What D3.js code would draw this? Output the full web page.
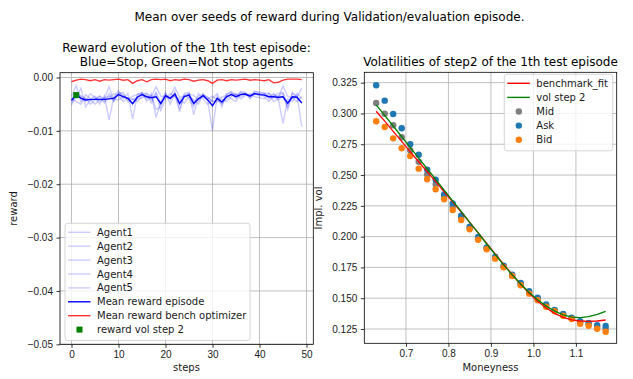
<!DOCTYPE html>
<html>
<head>
<meta charset="utf-8">
<script src="https://cdn.jsdelivr.net/npm/d3@7"></script>
<style>
  body { margin: 0; background: #fff; }
  svg { font-family: "DejaVu Sans", sans-serif; }
  .axis path, .axis line { stroke: #000; stroke-width: 0.8; }
  .axis text { font-size: 10px; fill: #1a1a1a; }
  .grid line { stroke: #b0b0b0; stroke-width: 0.8; }
</style>
</head>
<body>
<div class="chart"></div>
<script>
// ---- left panel data: reward per step ----
const agent1 = [-0.0052,-0.0028,-0.0035,-0.0045,-0.0030,-0.0038,-0.0050,-0.0034,-0.0080,-0.0036,-0.0025,-0.0040,-0.0030,-0.0078,-0.0032,-0.0028,-0.0045,-0.0034,-0.0060,-0.0055,-0.0030,-0.0042,-0.0026,-0.0065,-0.0030,-0.0028,-0.0070,-0.0036,-0.0030,-0.0045,-0.0099,-0.0035,-0.0055,-0.0030,-0.0028,-0.0040,-0.0026,-0.0028,-0.0038,-0.0025,-0.0030,-0.0028,-0.0040,-0.0032,-0.0035,-0.0030,-0.0060,-0.0030,-0.0034,-0.0092];
const agent2 = [-0.0035,-0.0015,-0.0045,-0.0038,-0.0050,-0.0042,-0.0035,-0.0048,-0.0030,-0.0045,-0.0030,-0.0028,-0.0046,-0.0040,-0.0045,-0.0035,-0.0030,-0.0048,-0.0030,-0.0062,-0.0040,-0.0030,-0.0036,-0.0040,-0.0048,-0.0036,-0.0042,-0.0050,-0.0032,-0.0038,-0.0045,-0.0046,-0.0040,-0.0045,-0.0036,-0.0030,-0.0040,-0.0034,-0.0030,-0.0036,-0.0038,-0.0040,-0.0030,-0.0045,-0.0040,-0.0086,-0.0040,-0.0045,-0.0030,-0.0040];
const agent3 = [-0.0048,-0.0038,-0.0020,-0.0055,-0.0042,-0.0050,-0.0040,-0.0045,-0.0038,-0.0030,-0.0035,-0.0045,-0.0038,-0.0042,-0.0036,-0.0030,-0.0040,-0.0030,-0.0075,-0.0045,-0.0028,-0.0050,-0.0030,-0.0045,-0.0032,-0.0040,-0.0055,-0.0030,-0.0040,-0.0050,-0.0040,-0.0030,-0.0050,-0.0032,-0.0040,-0.0045,-0.0030,-0.0030,-0.0040,-0.0032,-0.0030,-0.0036,-0.0045,-0.0035,-0.0030,-0.0028,-0.0050,-0.0038,-0.0045,-0.0036];
const agent4 = [-0.0040,-0.0045,-0.0050,-0.0032,-0.0040,-0.0035,-0.0045,-0.0038,-0.0035,-0.0040,-0.0042,-0.0035,-0.0040,-0.0050,-0.0040,-0.0038,-0.0035,-0.0042,-0.0028,-0.0048,-0.0036,-0.0038,-0.0035,-0.0058,-0.0035,-0.0030,-0.0045,-0.0040,-0.0036,-0.0040,-0.0035,-0.0042,-0.0048,-0.0040,-0.0030,-0.0032,-0.0036,-0.0032,-0.0034,-0.0030,-0.0035,-0.0030,-0.0036,-0.0030,-0.0042,-0.0035,-0.0055,-0.0028,-0.0040,-0.0045];
const agent5 = [-0.0040,-0.0030,-0.0035,-0.0040,-0.0043,-0.0040,-0.0035,-0.0040,-0.0017,-0.0044,-0.0028,-0.0032,-0.0041,-0.0035,-0.0032,-0.0029,-0.0030,-0.0036,-0.0017,-0.0035,-0.0036,-0.0035,-0.0018,-0.0037,-0.0035,-0.0031,-0.0033,-0.0044,-0.0032,-0.0037,-0.0045,-0.0042,-0.0037,-0.0033,-0.0026,-0.0033,-0.0028,-0.0031,-0.0033,-0.0027,-0.0027,-0.0031,-0.0029,-0.0038,-0.0038,-0.0016,-0.0035,-0.0039,-0.0036,-0.0020];
const meanReward = [-0.0043,-0.0032,-0.0039,-0.0042,-0.0041,-0.0041,-0.0041,-0.0041,-0.0040,-0.0039,-0.0032,-0.0036,-0.0039,-0.0049,-0.0037,-0.0032,-0.0036,-0.0038,-0.0036,-0.0049,-0.0034,-0.0039,-0.0031,-0.0049,-0.0036,-0.0033,-0.0049,-0.0040,-0.0034,-0.0042,-0.0053,-0.0039,-0.0046,-0.0036,-0.0032,-0.0036,-0.0032,-0.0031,-0.0035,-0.0030,-0.0032,-0.0033,-0.0036,-0.0036,-0.0037,-0.0036,-0.0048,-0.0036,-0.0037,-0.0048];
const benchReward = [-0.0008,-0.0005,-0.0003,-0.0004,-0.0006,-0.0004,-0.0007,-0.0004,-0.0005,-0.0004,-0.0003,-0.0005,-0.0004,-0.0011,-0.0006,-0.0004,-0.0008,-0.0004,-0.0003,-0.0004,-0.0003,-0.0006,-0.0004,-0.0005,-0.0003,-0.0004,-0.0007,-0.0005,-0.0004,-0.0006,-0.0011,-0.0005,-0.0004,-0.0006,-0.0004,-0.0005,-0.0004,-0.0003,-0.0005,-0.0004,-0.0005,-0.0006,-0.0004,-0.0010,-0.0009,-0.0005,-0.0003,-0.0003,-0.0003,-0.0004];
const volStepReward = [{ step: 1, value: -0.0033 }];

const agents = [agent1, agent2, agent3, agent4, agent5];
const agentNames = ["Agent1", "Agent2", "Agent3", "Agent4", "Agent5"];
const stepTicks = [0, 10, 20, 30, 40, 50];
const rewardTicks = [0, -0.01, -0.02, -0.03, -0.04, -0.05];

// ---- right panel data: volatility smile ----
const moneyness = [0.63,0.65,0.67,0.69,0.71,0.73,0.75,0.77,0.79,0.81,0.83,0.85,0.87,0.89,0.91,0.93,0.95,0.97,0.99,1.01,1.03,1.05,1.07,1.09,1.11,1.13,1.15,1.17];
const askVol = [0.3229,0.3104,0.2996,0.2880,0.2750,0.2665,0.2544,0.2462,0.2342,0.2270,0.2170,0.2080,0.1997,0.1913,0.1837,0.1764,0.1691,0.1624,0.1556,0.1504,0.1450,0.1404,0.1372,0.1342,0.1313,0.1299,0.1280,0.1274];
const bidVol = [0.2937,0.2890,0.2798,0.2717,0.2655,0.2552,0.2466,0.2384,0.2303,0.2216,0.2135,0.2060,0.1975,0.1897,0.1821,0.1751,0.1680,0.1605,0.1537,0.1483,0.1431,0.1394,0.1358,0.1331,0.1293,0.1277,0.1252,0.1228];
const midVol = [0.3085,0.2998,0.2904,0.2807,0.2702,0.2608,0.2505,0.2423,0.2322,0.2243,0.2152,0.2070,0.1986,0.1905,0.1829,0.1757,0.1685,0.1614,0.1546,0.1493,0.1440,0.1399,0.1365,0.1336,0.1303,0.1288,0.1266,0.1251];
const benchFit = [0.3018,0.2937,0.2855,0.2773,0.2690,0.2608,0.2527,0.2446,0.2364,0.2282,0.2200,0.2115,0.2030,0.1945,0.1860,0.1775,0.1692,0.1613,0.1540,0.1475,0.1420,0.1377,0.1345,0.1325,0.1315,0.1312,0.1315,0.1323];
const volStep2 = [0.3070,0.2985,0.2898,0.2811,0.2725,0.2638,0.2551,0.2465,0.2378,0.2291,0.2205,0.2115,0.2030,0.1940,0.1855,0.1770,0.1690,0.1615,0.1547,0.1487,0.1436,0.1395,0.1365,0.1347,0.1342,0.1350,0.1368,0.1394];
const moneyTicks = [0.7, 0.8, 0.9, 1.0, 1.1];
const volTicks = [0.125, 0.150, 0.175, 0.200, 0.225, 0.250, 0.275, 0.300, 0.325];

const W = 633, H = 379;
const svg = d3.select(".chart").append("svg")
  .attr("width", W)
  .attr("height", H);

svg.append("text")
  .attr("x", 329.5).attr("y", 21)
  .attr("text-anchor", "middle")
  .style("font-size", "12px").attr("fill", "#000")
  .text("Mean over seeds of reward during Validation/evaluation episode.");

// legend helper
function legend (g, x0, y0, w, rows, rowH) {
  const lg = g.append("g");
  lg.append("rect")
    .attr("x", x0).attr("y", y0)
    .attr("width", w).attr("height", rows.length * rowH + 6)
    .attr("rx", 2.5)
    .attr("fill", "#fff").attr("fill-opacity", 0.8)
    .attr("stroke", "#cccccc").attr("stroke-width", 0.8);
  rows.forEach((r, i) => {
    const cy = y0 + 9 + i * rowH;
    if (r.type === "line") {
      lg.append("line")
        .attr("x1", x0 + 3).attr("x2", x0 + 25.5)
        .attr("y1", cy).attr("y2", cy)
        .attr("stroke", r.color).attr("stroke-width", 1.4)
        .attr("stroke-opacity", r.opacity || 1);
    } else if (r.type === "square") {
      lg.append("rect")
        .attr("x", x0 + 14.5 - 3).attr("y", cy - 3)
        .attr("width", 6).attr("height", 6)
        .attr("fill", r.color);
    } else {
      lg.append("circle")
        .attr("cx", x0 + 14.5).attr("cy", cy).attr("r", 3.2)
        .attr("fill", r.color);
    }
    lg.append("text")
      .attr("x", x0 + 32).attr("y", cy)
      .attr("dy", "0.35em")
      .style("font-size", "10px").attr("fill", "#1a1a1a")
      .text(r.label);
  });
}

// ================= left panel =================
const x1 = d3.scaleLinear().domain([-2.45, 51.45]).range([60, 313.3]);
const y1 = d3.scaleLinear().domain([-0.05, 0.0009]).range([344.3, 72.7]);

const left = svg.append("g");

left.append("g").attr("class", "grid")
  .selectAll("line.v").data(stepTicks).join("line")
  .attr("x1", d => x1(d)).attr("x2", d => x1(d))
  .attr("y1", y1.range()[1]).attr("y2", y1.range()[0]);
left.append("g").attr("class", "grid")
  .selectAll("line.h").data(rewardTicks).join("line")
  .attr("x1", x1.range()[0]).attr("x2", x1.range()[1])
  .attr("y1", d => y1(d)).attr("y2", d => y1(d));

const line1 = d3.line().x((d, i) => x1(i)).y(d => y1(d));

left.selectAll("path.agent").data(agents).join("path")
  .attr("class", "agent")
  .attr("d", line1)
  .attr("fill", "none").attr("stroke", "blue")
  .attr("stroke-opacity", 0.2).attr("stroke-width", 1.4);

left.append("path").datum(meanReward)
  .attr("d", line1)
  .attr("fill", "none").attr("stroke", "blue").attr("stroke-width", 1.4);

left.append("path").datum(benchReward)
  .attr("d", line1)
  .attr("fill", "none").attr("stroke", "red").attr("stroke-opacity", 0.8).attr("stroke-width", 1.4);

left.selectAll("rect.vs").data(volStepReward).join("rect")
  .attr("class", "vs")
  .attr("x", d => x1(d.step) - 3).attr("y", d => y1(d.value) - 3)
  .attr("width", 6).attr("height", 6)
  .attr("fill", "green");

left.append("g").attr("class", "axis")
  .attr("transform", "translate(0,344.3)")
  .call(d3.axisBottom(x1).tickValues(stepTicks).tickSize(3.5).tickPadding(3.5).tickFormat(d3.format("d")));
left.append("g").attr("class", "axis")
  .attr("transform", "translate(60,0)")
  .call(d3.axisLeft(y1).tickValues(rewardTicks).tickSize(3.5).tickPadding(3.5).tickFormat(d3.format(".2f")));
left.selectAll(".axis .domain").remove();
left.append("rect")
  .attr("x", 60).attr("y", 72.7).attr("width", 253.3).attr("height", 271.6)
  .attr("fill", "none").attr("stroke", "#000").attr("stroke-width", 0.8);

left.append("text")
  .attr("x", 186.5).attr("y", 52)
  .attr("text-anchor", "middle").style("font-size", "12px")
  .text("Reward evolution of the 1th test episode:");
left.append("text")
  .attr("x", 186.5).attr("y", 65.5)
  .attr("text-anchor", "middle").style("font-size", "12px")
  .text("Blue=Stop, Green=Not stop agents");
left.append("text")
  .attr("x", 186.5).attr("y", 371)
  .attr("text-anchor", "middle").style("font-size", "10px").attr("fill", "#1a1a1a")
  .text("steps");
left.append("text")
  .attr("transform", "translate(17,208.5) rotate(-90)")
  .attr("text-anchor", "middle").style("font-size", "10px").attr("fill", "#1a1a1a")
  .text("reward");

legend(left, 65, 223.3, 185, [
  ...agentNames.map(n => ({ type: "line", color: "blue", opacity: 0.2, label: n })),
  { type: "line", color: "blue", label: "Mean reward episode" },
  { type: "line", color: "red", opacity: 0.8, label: "Mean reward bench optimizer" },
  { type: "square", color: "green", label: "reward vol step 2" }
], 13.9);

// ================= right panel =================
const x2 = d3.scaleLinear().domain([0.602, 1.196]).range([364.3, 616.7]);
const y2 = d3.scaleLinear().domain([0.1134, 0.3334]).range([343.3, 72.3]);

const right = svg.append("g");

right.append("g").attr("class", "grid")
  .selectAll("line").data(moneyTicks).join("line")
  .attr("x1", d => x2(d)).attr("x2", d => x2(d))
  .attr("y1", y2.range()[1]).attr("y2", y2.range()[0]);
right.append("g").attr("class", "grid")
  .selectAll("line").data(volTicks).join("line")
  .attr("x1", x2.range()[0]).attr("x2", x2.range()[1])
  .attr("y1", d => y2(d)).attr("y2", d => y2(d));

const scatterSets = [
  { vals: midVol, color: "#7f7f7f" },
  { vals: askVol, color: "#1f77b4" },
  { vals: bidVol, color: "#ff7f0e" }
];
scatterSets.forEach(s => {
  right.append("g").selectAll("circle").data(s.vals).join("circle")
    .attr("cx", (d, i) => x2(moneyness[i]))
    .attr("cy", d => y2(d))
    .attr("r", 3.2)
    .attr("fill", s.color);
});

const line2 = d3.line().x((d, i) => x2(moneyness[i])).y(d => y2(d));
right.append("path").datum(benchFit)
  .attr("d", line2).attr("fill", "none").attr("stroke", "red").attr("stroke-width", 1.3);
right.append("path").datum(volStep2)
  .attr("d", line2).attr("fill", "none").attr("stroke", "green").attr("stroke-width", 1.3);

right.append("g").attr("class", "axis")
  .attr("transform", "translate(0,343.3)")
  .call(d3.axisBottom(x2).tickValues(moneyTicks).tickSize(3.5).tickPadding(3.5).tickFormat(d3.format(".1f")));
right.append("g").attr("class", "axis")
  .attr("transform", "translate(364.3,0)")
  .call(d3.axisLeft(y2).tickValues(volTicks).tickSize(3.5).tickPadding(3.5).tickFormat(d3.format(".3f")));
right.selectAll(".axis .domain").remove();
right.append("rect")
  .attr("x", 364.3).attr("y", 72.3).attr("width", 252.4).attr("height", 271)
  .attr("fill", "none").attr("stroke", "#000").attr("stroke-width", 0.8);

right.append("text")
  .attr("x", 490.5).attr("y", 66)
  .attr("text-anchor", "middle").style("font-size", "12px")
  .text("Volatilities of step2 of the 1th test episode");
right.append("text")
  .attr("x", 490.5).attr("y", 371)
  .attr("text-anchor", "middle").style("font-size", "10px").attr("fill", "#1a1a1a")
  .text("Moneyness");
right.append("text")
  .attr("transform", "translate(322,208) rotate(-90)")
  .attr("text-anchor", "middle").style("font-size", "10px").attr("fill", "#1a1a1a")
  .text("Impl. vol");

legend(right, 504.3, 74.3, 108.4, [
  { type: "line", color: "red", label: "benchmark_fit" },
  { type: "line", color: "green", label: "vol step 2" },
  { type: "circle", color: "#7f7f7f", label: "Mid" },
  { type: "circle", color: "#1f77b4", label: "Ask" },
  { type: "circle", color: "#ff7f0e", label: "Bid" }
], 14.1);
</script>
</body>
</html>
